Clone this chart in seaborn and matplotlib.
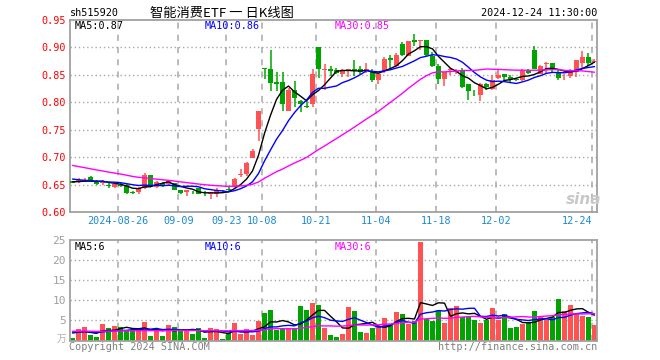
import numpy as np
import pandas as pd
import seaborn as sns
import matplotlib.pyplot as plt

# trading days shown (2024)
dates = ['08-14', '08-15', '08-16', '08-19', '08-20', '08-21', '08-22', '08-23',
         '08-26', '08-27', '08-28', '08-29', '08-30',
         '09-02', '09-03', '09-04', '09-05', '09-06', '09-09', '09-10', '09-11',
         '09-12', '09-13', '09-18', '09-19', '09-20', '09-23', '09-24', '09-25',
         '09-26', '09-27', '09-30',
         '10-08', '10-09', '10-10', '10-11', '10-14', '10-15', '10-16', '10-17',
         '10-18', '10-21', '10-22', '10-23', '10-24', '10-25', '10-28', '10-29',
         '10-30', '10-31', '11-01',
         '11-04', '11-05', '11-06', '11-07', '11-08', '11-11', '11-12', '11-13',
         '11-14', '11-15', '11-18', '11-19', '11-20', '11-21', '11-22', '11-25',
         '11-26', '11-27', '11-28', '11-29',
         '12-02', '12-03', '12-04', '12-05', '12-06', '12-09', '12-10', '12-11',
         '12-12', '12-13', '12-16', '12-17', '12-18', '12-19', '12-20', '12-23',
         '12-24']

open_p = [0.656, 0.654, 0.655, 0.663, 0.657, 0.653, 0.649, 0.645, 0.649, 0.650,
          0.636, 0.636, 0.643, 0.667, 0.645, 0.653, 0.651, 0.653, 0.640, 0.637,
          0.637, 0.643, 0.633, 0.632, 0.633, 0.639, 0.642, 0.645, 0.667, 0.670,
          0.699, 0.752, 0.862, 0.861, 0.837, 0.837, 0.785, 0.823, 0.802, 0.794,
          0.796, 0.900, 0.859, 0.861, 0.859, 0.851, 0.859, 0.860, 0.861, 0.858,
          0.857, 0.840, 0.857, 0.880, 0.866, 0.906, 0.885, 0.914, 0.912, 0.914,
          0.885, 0.866, 0.842, 0.859, 0.855, 0.857, 0.834, 0.814, 0.813, 0.834,
          0.825, 0.844, 0.852, 0.846, 0.842, 0.841, 0.857, 0.896, 0.852, 0.870,
          0.871, 0.856, 0.844, 0.848, 0.855, 0.872, 0.882, 0.874]
high_p = [0.657, 0.662, 0.662, 0.665, 0.658, 0.659, 0.653, 0.651, 0.653, 0.651,
          0.638, 0.645, 0.672, 0.668, 0.656, 0.655, 0.659, 0.653, 0.641, 0.641,
          0.639, 0.643, 0.639, 0.635, 0.643, 0.641, 0.645, 0.662, 0.678, 0.691,
          0.715, 0.784, 0.862, 0.896, 0.855, 0.855, 0.826, 0.839, 0.805, 0.802,
          0.860, 0.900, 0.869, 0.867, 0.863, 0.860, 0.860, 0.877, 0.867, 0.872,
          0.860, 0.855, 0.882, 0.887, 0.890, 0.909, 0.912, 0.925, 0.914, 0.914,
          0.891, 0.869, 0.855, 0.863, 0.860, 0.863, 0.834, 0.822, 0.836, 0.836,
          0.850, 0.858, 0.852, 0.850, 0.845, 0.860, 0.860, 0.902, 0.868, 0.874,
          0.872, 0.858, 0.852, 0.860, 0.877, 0.893, 0.889, 0.879]
low_p = [0.652, 0.653, 0.654, 0.657, 0.650, 0.649, 0.644, 0.644, 0.645, 0.633,
         0.633, 0.632, 0.642, 0.649, 0.643, 0.645, 0.650, 0.640, 0.633, 0.630,
         0.633, 0.632, 0.630, 0.624, 0.628, 0.634, 0.638, 0.644, 0.664, 0.666,
         0.698, 0.730, 0.842, 0.820, 0.820, 0.785, 0.785, 0.792, 0.783, 0.789,
         0.792, 0.845, 0.823, 0.848, 0.851, 0.846, 0.846, 0.848, 0.851, 0.854,
         0.837, 0.834, 0.854, 0.863, 0.865, 0.885, 0.885, 0.903, 0.896, 0.885,
         0.865, 0.834, 0.829, 0.849, 0.851, 0.826, 0.805, 0.811, 0.803, 0.823,
         0.823, 0.842, 0.839, 0.836, 0.838, 0.839, 0.852, 0.860, 0.851, 0.851,
         0.854, 0.841, 0.840, 0.845, 0.846, 0.862, 0.866, 0.871]
close_p = [0.653, 0.659, 0.659, 0.657, 0.651, 0.655, 0.648, 0.651, 0.648, 0.635,
           0.635, 0.644, 0.667, 0.649, 0.655, 0.647, 0.657, 0.641, 0.634, 0.640,
           0.636, 0.633, 0.632, 0.634, 0.639, 0.638, 0.641, 0.661, 0.670, 0.690,
           0.712, 0.784, 0.861, 0.835, 0.834, 0.796, 0.822, 0.808, 0.796, 0.792,
           0.851, 0.860, 0.861, 0.857, 0.854, 0.858, 0.860, 0.858, 0.855, 0.861,
           0.840, 0.851, 0.879, 0.877, 0.886, 0.887, 0.911, 0.909, 0.914, 0.886,
           0.867, 0.842, 0.855, 0.860, 0.857, 0.828, 0.820, 0.813, 0.834, 0.828,
           0.841, 0.849, 0.847, 0.842, 0.841, 0.857, 0.853, 0.861, 0.866, 0.871,
           0.858, 0.844, 0.845, 0.859, 0.877, 0.882, 0.872, 0.876]
# volume in 万手
volume = [0.66, 2.74, 3.3, 1.3, 0.83, 4.0, 3.07, 3.57, 3.3, 2.5,
          2.5, 2.74, 4.6, 1.07, 2.74, 1.07, 3.74, 3.3, 2.5, 2.5,
          1.74, 3.07, 0.58, 3.07, 2.82, 0.33, 1.9, 4.24, 1.5, 2.74,
          1.3, 4.74, 6.8, 7.6, 2.6, 3.07, 3.07, 3.0, 8.6, 7.6,
          9.4, 8.8, 3.07, 1.3, 0.8, 1.7, 8.4, 7.3, 2.1, 1.8,
          3.1, 3.6, 5.7, 4.2, 7.1, 6.6, 4.0, 4.8, 24.6, 5.4,
          4.8, 7.3, 4.4, 8.2, 8.6, 5.8, 6.1, 5.1, 4.4, 5.0,
          8.2, 5.0, 6.6, 3.2, 3.4, 4.2, 4.6, 7.3, 6.1, 5.2,
          5.9, 10.4, 7.3, 8.8, 6.9, 6.2, 5.8, 3.8]

# closes / volumes before 08-14, only needed to start the moving averages
pre_close = [0.722, 0.718, 0.720, 0.713, 0.709, 0.711, 0.705, 0.702, 0.698, 0.700,
             0.694, 0.690, 0.692, 0.688, 0.684, 0.686, 0.681, 0.678, 0.680, 0.676,
             0.672, 0.668, 0.664, 0.661, 0.660, 0.658, 0.654, 0.657, 0.6535]
pre_volume = [2.6, 2.1, 3.0, 2.4, 1.8, 2.9, 2.2, 2.7, 1.9, 2.5, 3.1, 2.0, 2.3, 2.8, 1.7,
              2.6, 2.4, 2.2, 3.0, 1.9, 2.5, 2.3, 2.7, 2.0, 2.4, 1.8, 2.6, 2.2, 2.1]

tick_labels = ['2024-08-26', '09-09', '09-23', '10-08', '10-21', '11-04', '11-18', '12-02', '12-24']

RED = '#ff5353'
GREEN = '#00a400'
GRID = '#a8a8a8'
MA_COLORS = {5: 'black', 10: '#0000ff', 30: '#ff00ff'}

df = pd.DataFrame({'date': dates, 'open': open_p, 'high': high_p,
                   'low': low_p, 'close': close_p, 'vol': volume})
df['idx'] = np.arange(len(df))
df['color'] = np.where(df['close'] >= df['open'], RED, GREEN)
n_pre = len(pre_close)
all_close = pd.Series(pre_close + close_p)
all_vol = pd.Series(pre_volume + volume)
for w in (5, 10, 30):
    df[f'ma{w}'] = all_close.rolling(w).mean().iloc[n_pre:].to_numpy()
    df[f'vma{w}'] = all_vol.rolling(w).mean().iloc[n_pre:].to_numpy()

sns.set_theme(style='white')
plt.rcParams['font.family'] = ['DejaVu Sans Mono', 'Noto Sans CJK SC']

fig = plt.figure(figsize=(6.6, 3.6), dpi=100)
ax = fig.add_axes([70 / 660, 1 - 212 / 360, 527 / 660, 192 / 360])
axv = fig.add_axes([70 / 660, 1 - 340.5 / 360, 527 / 660, 100.5 / 360])

xlim = (-0.42, 87.42)
tick_pos = [dates.index(t[-5:]) - 0.38 for t in tick_labels]

for a in (ax, axv):
    for s in a.spines.values():
        s.set_color('#a0a0a0')
        s.set_linewidth(1.3)
    a.set_xlim(*xlim)
    for p in tick_pos:
        a.axvline(p, color=GRID, ls=(0, (4, 4)), lw=1.1, zorder=0)

# candles
ax.vlines(df['idx'], df['low'], df['high'], colors=df['color'], lw=1.1, zorder=2)
body = (df['close'] - df['open']).abs().clip(lower=0.0009)
ax.bar(df['idx'], body, bottom=df[['open', 'close']].min(axis=1),
       width=0.8, color=df['color'], edgecolor='none', linewidth=0, zorder=3)
for w in (5, 10, 30):
    sns.lineplot(data=df, x='idx', y=f'ma{w}', ax=ax, color=MA_COLORS[w],
                 lw=1.0, zorder=4, legend=False)

yt = [0.60, 0.65, 0.70, 0.75, 0.80, 0.85, 0.90, 0.95]
for y in yt[1:-1]:
    ax.axhline(y, color=GRID, ls=(0, (1, 2)), lw=1.0, zorder=0)
ax.set_ylim(0.60, 0.95)
ax.set_yticks(yt)
ax.set_yticklabels([f'{y:.2f}' for y in yt], color='#ff0000', fontsize=7.3)
ax.set_xticks(tick_pos)
ax.set_xticklabels(tick_labels, color='#1a8ad4', fontsize=7.3)
ax.get_xticklabels()[-1].set_ha('right')
ax.get_xticklabels()[-1].set_x(tick_pos[-1] + 0.3)
ax.tick_params(length=0, pad=3)
ax.set_xlabel('')
ax.set_ylabel('')

# volume panel
axv.bar(df['idx'], df['vol'], width=0.8, color=df['color'], edgecolor='none',
        linewidth=0, zorder=2)
for w in (5, 10, 30):
    sns.lineplot(data=df, x='idx', y=f'vma{w}', ax=axv, color=MA_COLORS[w],
                 lw=1.0, zorder=4, legend=False)
vt = [0, 5, 10, 15, 20, 25]
for y in vt[1:-1]:
    axv.axhline(y, color=GRID, ls=(0, (1, 2)), lw=1.0, zorder=0)
axv.set_ylim(0, 25)
axv.set_yticks(vt[1:])
axv.set_yticklabels([str(v) for v in vt[1:]], color='#a0a0a0', fontsize=8)
axv.set_xticks([])
axv.tick_params(length=0, pad=3)
axv.set_xlabel('')
axv.set_ylabel('')

# header and legends
fig.text(70 / 660, 1 - 13 / 360, 'sh515920', fontsize=7.3, va='center', color='black')
fig.text(150 / 660, 1 - 13 / 360, '智能消费ETF 一 日K线图', fontsize=9.5, va='center',
         family=['Noto Sans CJK SC', 'DejaVu Sans'], color='black')
fig.text(597 / 660, 1 - 13 / 360, '2024-12-24 11:30:00', fontsize=7.3, va='center',
         ha='right', color='black')
last = df.iloc[-1]
for x0, w in ((75, 5), (205, 10), (335, 30)):
    fig.text(x0 / 660, 1 - 26 / 360, f'MA{w}:{last[f"ma{w}"]:.2f}', fontsize=7.3,
             va='center', color=MA_COLORS[w])
    fig.text(x0 / 660, 1 - 246.5 / 360, f'MA{w}:{int(last[f"vma{w}"])}', fontsize=7.3,
             va='center', color=MA_COLORS[w])

fig.text(584 / 660, 1 - 200 / 360, 'sina', fontsize=11, ha='center', va='center',
         color='#c8c8c8', style='italic', weight='bold', family='DejaVu Sans')
fig.text(66 / 660, 1 - 339 / 360, '万', fontsize=7, ha='right', va='center',
         color='#b0b0b0', family=['Noto Sans CJK SC', 'DejaVu Sans'])
fig.text(69 / 660, 1 - 347 / 360, 'Copyright 2024 SINA.COM', fontsize=7.3,
         va='center', color='#808080')
fig.text(597 / 660, 1 - 347 / 360, 'http://finance.sina.com.cn', fontsize=7.3,
         va='center', ha='right', color='#808080')

fig.savefig('out.png', dpi=100)
